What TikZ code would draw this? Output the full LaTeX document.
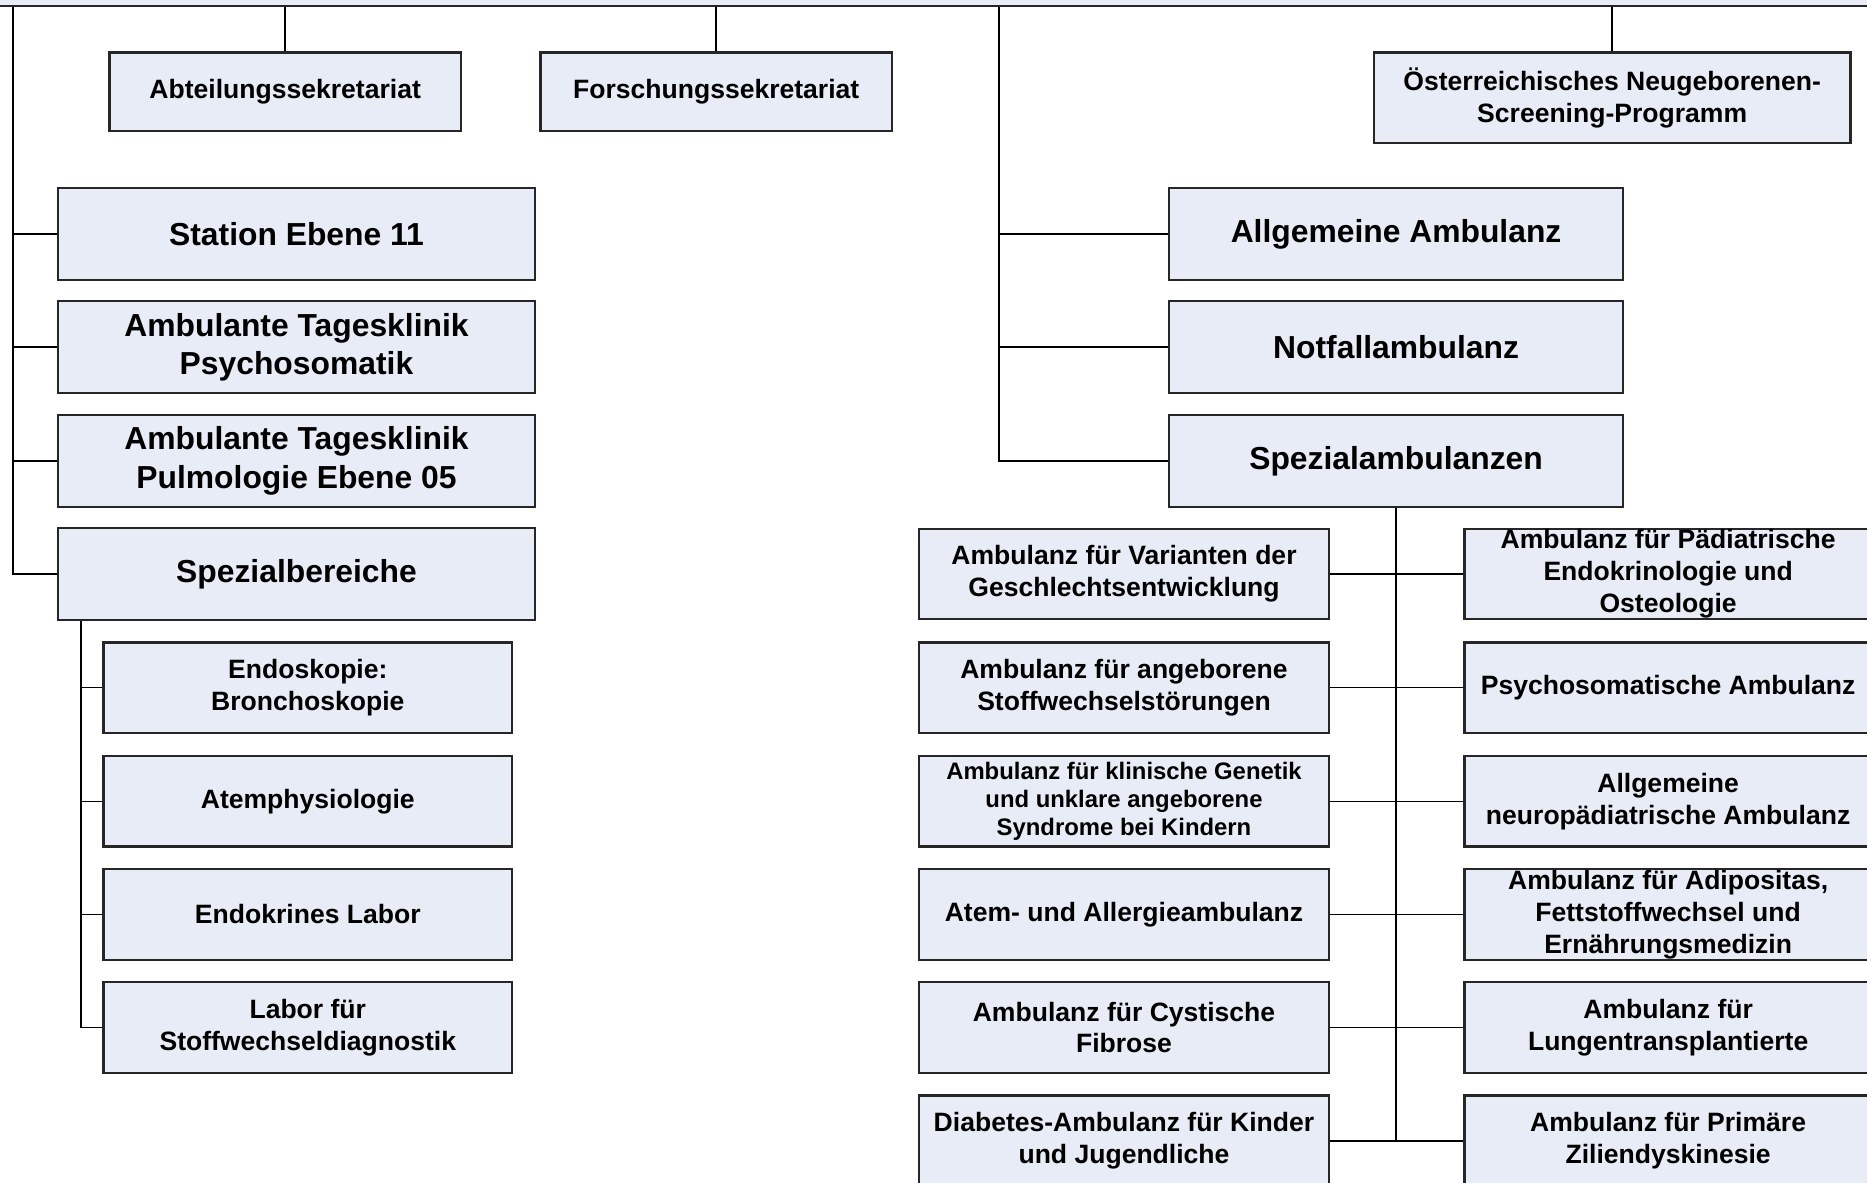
\documentclass[tikz,border=0pt]{standalone}
\usepackage{fontspec}
\setmainfont{Liberation Sans}
\usetikzlibrary{calc}
\definecolor{boxfill}{RGB}{231,236,246}

\begin{document}
\begin{tikzpicture}[
    x = 0.01cm, y = -0.01cm,
    line width = 0.4pt,
    unit/.style = {rectangle,
      draw = black!85,
      line width = 0.55pt,
      fill = boxfill,
      align = center,
      inner sep = 1pt,
      minimum width = 3.44cm,
      minimum height = 0.76cm,
      font = \fontsize{6.34}{7.6}\selectfont\bfseries},
    bigunit/.style = {unit,
      minimum width = 4cm,
      minimum height = 0.77cm,
      font = \fontsize{7.6}{9.1}\selectfont\bfseries},
    smallunit/.style = {unit,
      font = \fontsize{5.7}{6.8}\selectfont\bfseries},
    tallunit/.style = {unit,
      minimum width = 3.42cm,
      inner ysep = 0pt,
      font = \fontsize{6.34}{7.7}\selectfont\bfseries}
    ]

    \useasboundingbox (0, 0) rectangle (1568, 993);

    \node at (784, -30) [unit, minimum width = 16cm, minimum height = 0.7cm, name = root] {};

    \node at (239.5, 77) [unit, minimum width = 2.95cm, minimum height = 0.66cm, name = abteilung] {Abteilungssekretariat};
    \node at (601.5, 77) [unit, minimum width = 2.95cm, minimum height = 0.66cm, name = forschung] {Forschungssekretariat};
    \node at (1354, 82) [unit, minimum width = 4cm, name = screening] {Österreichisches Neugeborenen-\\Screening-Programm};

    \node at (249, 196.5) [bigunit, name = station] {Station Ebene 11};
    \node at (249, 291.5) [bigunit, name = psycho] {Ambulante Tagesklinik\\Psychosomatik};
    \node at (249, 387) [bigunit, name = pulmo] {Ambulante Tagesklinik\\Pulmologie Ebene 05};
    \node at (249, 482) [bigunit, name = bereiche] {Spezialbereiche};

    \node at (258.5, 577.5) [unit, minimum width = 3.43cm, name = endo] {Endoskopie:\\Bronchoskopie};
    \node at (258.5, 673) [unit, minimum width = 3.43cm, name = atemphys] {Atemphysiologie};
    \node at (258.5, 768) [unit, minimum width = 3.43cm, name = labor] {Endokrines Labor};
    \node at (258.5, 863) [unit, minimum width = 3.43cm, name = stofflabor] {Labor für\\Stoffwechseldiagnostik};

    \node at (1172.5, 196.5) [bigunit, minimum width = 3.81cm, name = allgemein] {Allgemeine Ambulanz};
    \node at (1172.5, 291.5) [bigunit, minimum width = 3.81cm, name = notfall] {Notfallambulanz};
    \node at (1172.5, 387) [bigunit, minimum width = 3.81cm, name = spezial] {Spezialambulanzen};

    \node at (944, 482) [unit, name = varianten] {Ambulanz für Varianten der\\Geschlechtsentwicklung};
    \node at (944, 577.5) [unit, name = stoffwechsel] {Ambulanz für angeborene\\Stoffwechselstörungen};
    \node at (944, 673) [smallunit, name = genetik] {Ambulanz für klinische Genetik\\und unklare angeborene\\Syndrome bei Kindern};
    \node at (944, 768) [unit, name = atem] {Atem- und Allergieambulanz};
    \node at (944, 863) [unit, name = cf] {Ambulanz für Cystische\\Fibrose};
    \node at (944, 958) [unit, name = diabetes] {Diabetes-Ambulanz für Kinder\\und Jugendliche};

    \node at (1401, 482) [tallunit, name = paediatrie] {Ambulanz für Pädiatrische\\Endokrinologie und\\Osteologie};
    \node at (1401, 577.5) [unit, minimum width = 3.42cm, name = psychosom] {Psychosomatische Ambulanz};
    \node at (1401, 673) [unit, minimum width = 3.42cm, name = neuro] {Allgemeine\\neuropädiatrische Ambulanz};
    \node at (1401, 768) [tallunit, name = adipositas] {Ambulanz für Adipositas,\\Fettstoffwechsel und\\Ernährungsmedizin};
    \node at (1401, 863) [unit, minimum width = 3.42cm, name = lungen] {Ambulanz für\\Lungentransplantierte};
    \node at (1401, 958) [unit, minimum width = 3.42cm, name = pcd] {Ambulanz für Primäre\\Ziliendyskinesie};

    \coordinate (lspine) at (11, 0);
    \coordinate (mspine) at (839, 0);
    \coordinate (sspine) at (68, 0);

    \draw (root.south -| lspine) |- (bereiche.west);
    \foreach \n in {station, psycho, pulmo}
      \draw (lspine |- \n.west) to (\n.west);

    \foreach \n in {abteilung, forschung, screening}
      \draw (\n.north) to (\n.north |- root.south);

    \draw (root.south -| mspine) |- (spezial.west);
    \foreach \n in {allgemein, notfall}
      \draw (mspine |- \n.west) to (\n.west);

    \draw (sspine |- bereiche.south) |- (stofflabor.west);
    \foreach \n in {endo, atemphys, labor}
      \draw (sspine |- \n.west) to (\n.west);

    \draw (spezial.south) to (spezial.south |- diabetes.east);
    \foreach \l/\r in {varianten/paediatrie, stoffwechsel/psychosom, genetik/neuro, atem/adipositas, cf/lungen, diabetes/pcd}
      \draw (\l.east) to (\r.west);

  \end{tikzpicture}
\end{document}
